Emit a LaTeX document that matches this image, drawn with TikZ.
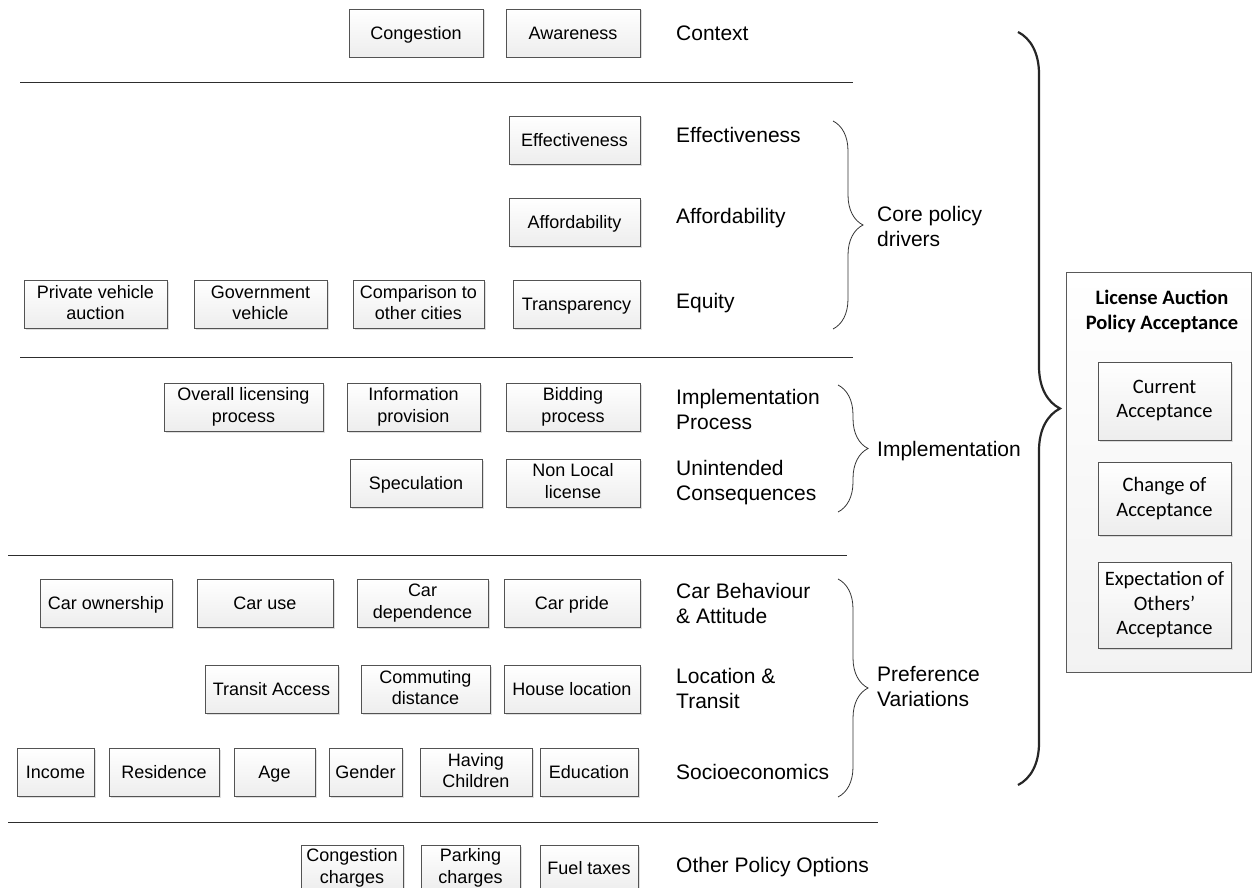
\documentclass[tikz,border=0pt]{standalone}
\usepackage{fontspec}
\setmainfont{Liberation Sans}
\newfontfamily\calibri{Carlito}
\usetikzlibrary{shadows}
\usetikzlibrary{decorations.pathreplacing}
\tikzset{
    box/.style={draw=gray!65!black, line width=0.7pt, top color=white, bottom color=gray!14,
        minimum width=#1, minimum height=48pt, align=center, inner sep=2pt,
        font=\fontsize{18}{21.5}\selectfont,
        execute at begin node={\rule{0pt}{16.5pt}}, execute at end node={\rule[-4pt]{0pt}{4pt}},
        drop shadow={shadow xshift=1.5pt, shadow yshift=-1.5pt, opacity=0.25, fill=gray}},
    box/.default=134pt,
    accbox/.style={box=133pt, font=\calibri\fontsize{20.5}{24.5}\selectfont},
    lbl/.style={anchor=west, align=left, inner sep=0pt, font=\fontsize{21}{25}\selectfont},
    sep/.style={draw=gray!35!black, line width=0.9pt},
    brc/.style={decorate, decoration={brace, amplitude=30pt}, draw=black!80, line width=0.8pt}}

\begin{document}
\begin{tikzpicture}[x=1pt, y=-1pt]
\useasboundingbox (0,0) rectangle (1252,888);

%Context
\node[box] (cong) at (416,33) {Congestion};
\node[box] (aware) at (573,33) {Awareness};
\node[lbl] (context) at (676,33) {Context};
\draw[sep] (20,82) -- (853,82);

%Core policy drivers
\node[box=131pt] (eff) at (574.5,140) {Effectiveness};
\node[lbl] (effl) at (676,135) {Effectiveness};
\node[box=131pt] (aff) at (574.5,222) {Affordability};
\node[lbl] (affl) at (676,218) {Affordability};
\node[box=143pt] (priv) at (95.5,304.5) {Private vehicle\\auction};
\node[box=133pt] (gov) at (260.5,304.5) {Government\\vehicle};
\node[box=131pt] (comp) at (418.5,304.5) {Comparison to\\other cities};
\node[box=127pt] (transp) at (576.5,304.5) {Transparency};
\node[lbl] (equity) at (676,303) {Equity};
\coordinate (core1) at (833,121);
\coordinate (core2) at (833,329);
\draw[brc] (core1) -- (core2);
\node[lbl] (core) at (877,226) {Core policy\\drivers};
\draw[sep] (20,357) -- (853,357);

%Implementation
\node[box=159pt] (overall) at (243.5,407) {Overall licensing\\process};
\node[box=133pt] (info) at (413.5,407) {Information\\provision};
\node[box=134pt] (bid) at (573,407) {Bidding\\process};
\node[lbl] (implp) at (676,409.5) {Implementation\\Process};
\node[box=132pt] (spec) at (416,483) {Speculation};
\node[box=134pt] (nonloc) at (573,483) {Non Local\\license};
\node[lbl] (unint) at (676,482.5) {Unintended\\Consequences};
\coordinate (impl1) at (838,385);
\coordinate (impl2) at (838,512);
\draw[brc] (impl1) -- (impl2);
\node[lbl] (impl) at (877,451) {Implementation};
\draw[sep] (8,555) -- (847,555);

%Preference variations
\node[box=132pt] (carown) at (106,603) {Car ownership};
\node[box=136pt] (caruse) at (265,603) {Car use};
\node[box=131pt] (cardep) at (422.5,603) {Car\\dependence};
\node[box=136pt] (carpride) at (572,603) {Car pride};
\node[lbl] (carl) at (676,603) {Car Behaviour\\\& Attitude};
\node[box=133pt] (transit) at (271.5,689.5) {Transit Access};
\node[box=129pt] (commute) at (425.5,689.5) {Commuting\\distance};
\node[box=136pt] (house) at (572,689.5) {House location};
\node[lbl] (locl) at (676,688) {Location \&\\Transit};
\node[box=77pt] (income) at (55.5,772.5) {Income};
\node[box=110pt] (resid) at (164,772.5) {Residence};
\node[box=81pt] (age) at (274.5,772.5) {Age};
\node[box=73pt] (gender) at (365.5,772.5) {Gender};
\node[box=112pt] (child) at (476,772.5) {Having\\Children};
\node[box=98pt] (edu) at (589,772.5) {Education};
\node[lbl] (socio) at (676,772) {Socioeconomics};
\coordinate (pref1) at (838,579);
\coordinate (pref2) at (838,797);
\draw[brc] (pref1) -- (pref2);
\node[lbl] (pref) at (877,686) {Preference\\Variations};
\draw[sep] (8,822) -- (878,822);

%Other policy options
\node[box=102pt, minimum height=46pt] (congch) at (352,868) {Congestion\\charges};
\node[box=99pt, minimum height=46pt] (parkch) at (470.5,868) {Parking\\charges};
\node[box=98pt, minimum height=46pt] (fuel) at (589,868) {Fuel taxes};
\node[lbl] (other) at (676,867) {Other Policy Options};

%Acceptance
\coordinate (big1) at (1018,32);
\coordinate (big2) at (1018,785);
\draw[decorate, decoration={brace, amplitude=42pt}, draw=black!85, line width=2.2pt] (big1) -- (big2);
\node[draw=gray!70!black, line width=0.7pt, top color=white, bottom color=gray!10,
    minimum width=185pt, minimum height=400pt, inner sep=0pt] (panel) at (1158.5,472) {};
\node[align=center, font=\calibri\bfseries\fontsize{20.5}{25}\selectfont] (title) at (1162,311)
    {License Auction\\Policy Acceptance};
\node[accbox, minimum height=78pt] (curr) at (1164.5,401) {Current\\Acceptance};
\node[accbox, minimum height=73pt] (change) at (1164.5,499) {Change of\\Acceptance};
\node[accbox, minimum height=86pt] (expect) at (1164.5,605) {Expectation of\\Others’\\Acceptance};
\end{tikzpicture}
\end{document}
